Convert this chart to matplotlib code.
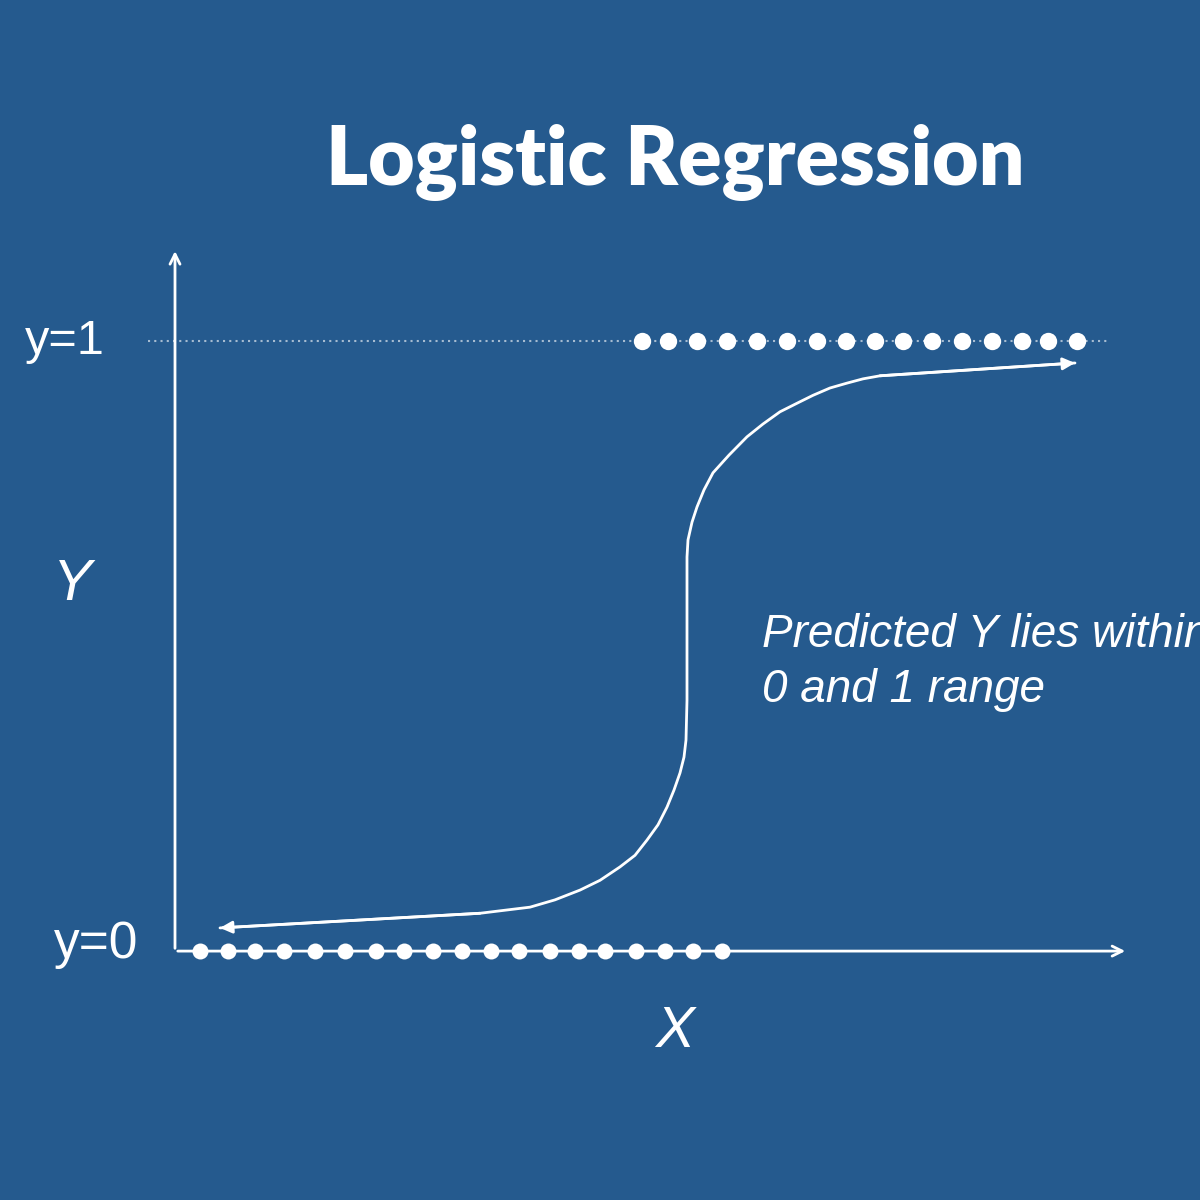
import matplotlib.pyplot as plt

# background and ink
bg = '#255a8e'
ink = 'white'

# observed points: class 0 sits on y=0, class 1 on y=1
x_class0 = [2.00, 2.28, 2.55, 2.84, 3.15, 3.45, 3.76, 4.04, 4.33, 4.62,
            4.91, 5.19, 5.50, 5.79, 6.05, 6.36, 6.65, 6.93, 7.22]
x_class1 = [6.42, 6.68, 6.97, 7.27, 7.57, 7.87, 8.17, 8.46, 8.75, 9.03,
            9.32, 9.62, 9.92, 10.22, 10.48, 10.77]

# hand drawn s-curve
curve_x = [2.20, 4.80, 5.30, 5.55, 5.80, 6.00, 6.20, 6.35, 6.47, 6.58,
           6.67, 6.74, 6.80, 6.84, 6.86, 6.87, 6.87, 6.87, 6.88, 6.92,
           6.97, 7.04, 7.13, 7.29, 7.47, 7.63, 7.80, 7.97, 8.13, 8.30,
           8.47, 8.63, 8.80, 10.75]
curve_y = [0.038, 0.062, 0.072, 0.084, 0.100, 0.116, 0.138, 0.157, 0.182, 0.207,
           0.236, 0.264, 0.292, 0.318, 0.346, 0.411, 0.575, 0.646, 0.674, 0.703,
           0.728, 0.756, 0.784, 0.813, 0.843, 0.864, 0.884, 0.898, 0.911, 0.923,
           0.931, 0.938, 0.943, 0.964]

fig = plt.figure(figsize=(12, 12), dpi=100)
fig.patch.set_facecolor(bg)
ax = fig.add_axes([0, 0, 1, 1])
ax.set_facecolor(bg)
ax.set_xlim(0, 12)
ax.set_ylim(-0.408, 1.559)
ax.axis('off')

# axes with arrows
ax.annotate('', xy=(1.75, 1.152), xytext=(1.75, 0),
            arrowprops=dict(arrowstyle='->', color=ink, lw=2, mutation_scale=18))
ax.annotate('', xy=(11.28, 0), xytext=(1.75, 0),
            arrowprops=dict(arrowstyle='->', color=ink, lw=2, mutation_scale=18))

# dotted guide at y=1
ax.plot([1.48, 11.10], [1, 1], color=ink, lw=1.5, ls=(0, (1, 2)), alpha=0.6)

# data points
ax.plot(x_class1, [1] * len(x_class1), 'o', color=ink, ms=12.5, mec='none')
ax.plot(x_class0, [0] * len(x_class0), 'o', color=ink, ms=11.5, mec='none')

# the curve with arrowheads at both ends
ax.plot(curve_x, curve_y, color=ink, lw=2.0, solid_capstyle='round',
        solid_joinstyle='round')
ax.annotate('', xy=(curve_x[0], curve_y[0]), xytext=(curve_x[1], curve_y[1]),
            arrowprops=dict(arrowstyle='-|>', color=ink, lw=2, mutation_scale=18,
                            shrinkA=0, shrinkB=0))
ax.annotate('', xy=(curve_x[-1], curve_y[-1]), xytext=(curve_x[-2], curve_y[-2]),
            arrowprops=dict(arrowstyle='-|>', color=ink, lw=2, mutation_scale=18,
                            shrinkA=0, shrinkB=0))

# labels
sans = 'Liberation Sans'
ax.text(6.75, 1.293, 'Logistic Regression', color=ink, fontsize=58,
        fontweight='heavy', family='Lato', ha='center', va='center')
ax.text(0.65, 1.0, 'y=1', color=ink, fontsize=35, family=sans,
        ha='center', va='center')
ax.text(0.96, 0.01, 'y=0', color=ink, fontsize=37, family=sans,
        ha='center', va='center')
ax.text(0.72, 0.60, 'Y', color=ink, fontsize=42, family=sans,
        style='italic', ha='center', va='center')
ax.text(6.75, -0.133, 'X', color=ink, fontsize=42, family=sans,
        style='italic', ha='center', va='center')
ax.text(7.62, 0.518, 'Predicted Y lies within', color=ink, fontsize=33,
        family=sans, style='italic', ha='left', va='center')
ax.text(7.62, 0.428, '0 and 1 range', color=ink, fontsize=33,
        family=sans, style='italic', ha='left', va='center')

plt.savefig('out.png', dpi=100, facecolor=bg)
